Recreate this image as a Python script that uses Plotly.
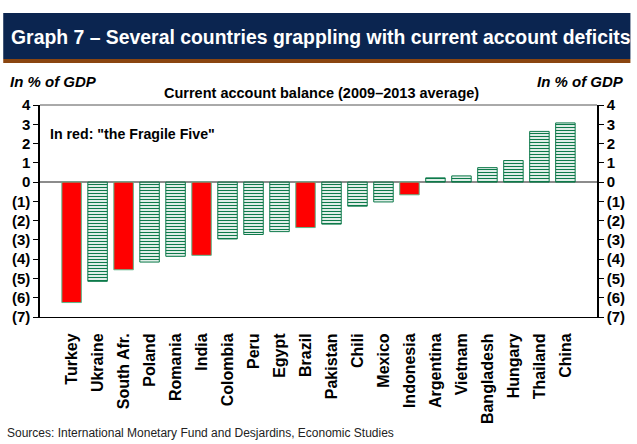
import plotly.graph_objects as go

countries = ["Turkey", "Ukraine", "South Afr.", "Poland", "Romania", "India",
             "Colombia", "Peru", "Egypt", "Brazil", "Pakistan", "Chili", "Mexico",
             "Indonesia", "Argentina", "Vietnam", "Bangladesh", "Hungary",
             "Thailand", "China"]
balance = [-6.25, -5.15, -4.55, -4.15, -3.85, -3.8, -2.95, -2.72, -2.57, -2.36,
           -2.18, -1.25, -1.03, -0.66, 0.22, 0.32, 0.75, 1.12, 2.63, 3.07]
fragile_five = ["Turkey", "South Afr.", "India", "Brazil", "Indonesia"]

tick_vals = [4, 3, 2, 1, 0, -1, -2, -3, -4, -5, -6, -7]
tick_text = ["4", "3", "2", "1", "0", "(1)", "(2)", "(3)", "(4)", "(5)", "(6)", "(7)"]

RED = "#ff0000"
GREEN = "#0e7a4b"
NAVY = "#0b2550"
BROWN = "#8a4510"
FONT = "Liberation Sans, Arial, sans-serif"

is_red = [c in fragile_five for c in countries]
bar_colors = [RED if r else GREEN for r in is_red]
bar_shapes = ["" if r else "-" for r in is_red]
edge_colors = ["#5cb88a" if r else GREEN for r in is_red]

fig = go.Figure()
fig.add_trace(go.Bar(
    x=countries, y=balance,
    marker=dict(
        color=bar_colors,
        line=dict(color=edge_colors, width=1),
        pattern=dict(shape=bar_shapes, fgcolor=GREEN, bgcolor="white",
                     size=3, solidity=0.42, fillmode="replace"),
    ),
    showlegend=False, hoverinfo="x+y",
))
# invisible companion trace so the right-hand axis is drawn
fig.add_trace(go.Scatter(
    x=countries, y=balance, yaxis="y2", mode="markers",
    marker=dict(opacity=0), showlegend=False, hoverinfo="skip",
))

x_font = dict(family=FONT, size=16, color="black", weight="bold")
y_font = dict(family=FONT, size=15, color="black", weight="bold")

fig.update_layout(
    width=637, height=444,
    margin=dict(l=40, r=33, t=105, b=127),
    paper_bgcolor="white", plot_bgcolor="white",
    bargap=0.25,
    xaxis=dict(
        tickangle=-90, tickfont=x_font, showline=True, linecolor="black",
        linewidth=1, mirror=False, ticks="", showgrid=False,
        ticklabelstandoff=9,
    ),
    yaxis=dict(
        range=[-7, 4], tickvals=tick_vals, ticktext=tick_text, tickfont=y_font,
        showline=True, linecolor="black", linewidth=1.5, ticks="outside",
        ticklen=5, tickcolor="black", showgrid=False,
        zeroline=True, zerolinecolor="#8c8c8c", zerolinewidth=2,
    ),
    yaxis2=dict(
        range=[-7, 4], tickvals=tick_vals, ticktext=tick_text, tickfont=y_font,
        overlaying="y", side="right", showline=True, linecolor="black",
        linewidth=1.5, ticks="outside", ticklen=5, tickcolor="black",
        showgrid=False, zeroline=False,
    ),
    shapes=[
        # header banner
        dict(type="rect", xref="paper", yref="paper", x0=-0.066, x1=1.06,
             y0=1.217, y1=1.434, fillcolor=NAVY, line=dict(width=0), layer="below"),
        dict(type="rect", xref="paper", yref="paper", x0=-0.066, x1=1.06,
             y0=1.198, y1=1.217, fillcolor=BROWN, line=dict(width=0), layer="below"),
        # top border of the plot area
        dict(type="line", xref="paper", yref="paper", x0=0, x1=1, y0=1, y1=1,
             line=dict(color="#555555", width=1)),
    ],
    annotations=[
        dict(text="Graph 7 – Several countries grappling with current account deficits",
             xref="paper", yref="paper", x=-0.055, y=1.321, xanchor="left",
             yanchor="middle", showarrow=False,
             font=dict(family=FONT, size=19.4, color="white", weight="bold")),
        dict(text="<i>In % of GDP</i>", xref="paper", yref="paper", x=-0.058,
             y=1.113, xanchor="left", yanchor="middle", showarrow=False,
             font=dict(family=FONT, size=15, color="black", weight="bold")),
        dict(text="<i>In % of GDP</i>", xref="paper", yref="paper", x=1.052,
             y=1.113, xanchor="right", yanchor="middle", showarrow=False,
             font=dict(family=FONT, size=15, color="black", weight="bold")),
        dict(text="Current account balance (2009–2013 average)", xref="paper",
             yref="paper", x=0.505, y=1.058, xanchor="center", yanchor="middle",
             showarrow=False,
             font=dict(family=FONT, size=14.5, color="black", weight="bold")),
        dict(text="In red: \"the Fragile Five\"", xref="paper", yref="paper",
             x=0.014, y=0.863, xanchor="left", yanchor="middle", showarrow=False,
             font=dict(family=FONT, size=14.2, color="black", weight="bold")),
        dict(text="Sources: International Monetary Fund and Desjardins, Economic Studies",
             xref="paper", yref="paper", x=-0.062, y=-0.548, xanchor="left",
             yanchor="middle", showarrow=False,
             font=dict(family=FONT, size=12, color="#222222")),
    ],
)

fig.write_html("out.html")
